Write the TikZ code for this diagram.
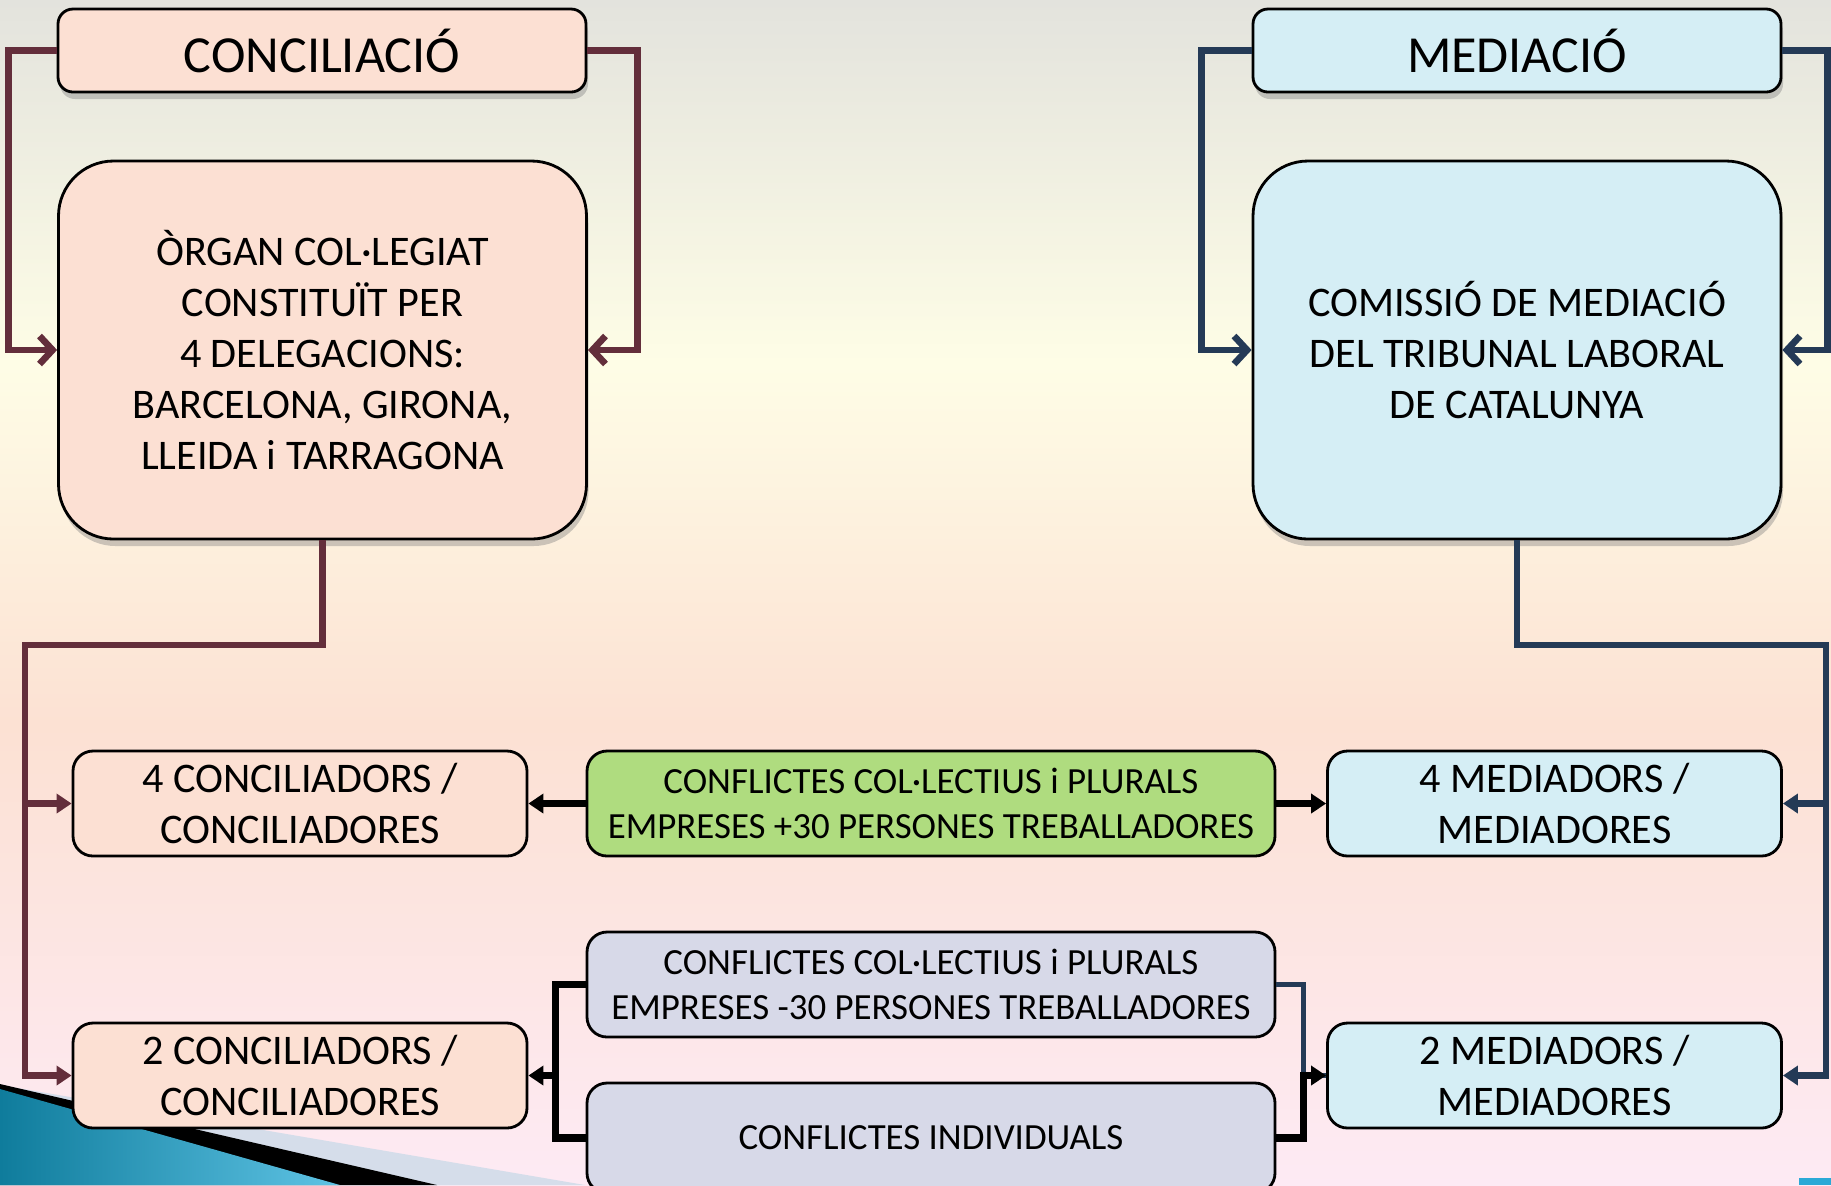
\documentclass[tikz,border=0pt]{standalone}
\usepackage{fontspec}
\setmainfont{Carlito}
\usetikzlibrary{arrows.meta,shadows}
\definecolor{concfill}{HTML}{FCE0D3}
\definecolor{medfill}{HTML}{D5EEF5}
\definecolor{greenfill}{HTML}{AFDC7F}
\definecolor{greyfill}{HTML}{D7D9E8}
\definecolor{concline}{HTML}{632E3B}
\definecolor{medline}{HTML}{243A56}
\definecolor{bggrey}{HTML}{E3E3DD}
\definecolor{bgyellow}{HTML}{FEFDE6}
\definecolor{bgpeach}{HTML}{FCE1D3}
\definecolor{bgpink}{HTML}{FDEAF4}
\definecolor{wedgeblue}{HTML}{0F7C9C}
\definecolor{wedgelight}{HTML}{5EC3E4}
\definecolor{wedgegrey}{HTML}{D5DDEA}
\definecolor{cornerteal}{HTML}{2AA9D6}
\begin{document}
\begin{tikzpicture}[
    box/.style={draw=black, line width=0.8pt, align=center, inner sep=0pt},
    headbox/.style={box, rounded corners=0.15cm, minimum width=5.28cm, minimum height=0.83cm,
      font=\fontsize{14.8}{17.8}\selectfont,
      drop shadow={shadow xshift=0.2mm, shadow yshift=-0.7mm, opacity=0.4}},
    mainbox/.style={box, rounded corners=0.55cm, minimum width=5.28cm, minimum height=3.78cm,
      font=\fontsize{12}{14.5}\selectfont,
      drop shadow={shadow xshift=0.2mm, shadow yshift=-0.7mm, opacity=0.4}},
    groupbox/.style={box, rounded corners=0.2cm, minimum width=4.54cm, minimum height=1.05cm,
      font=\fontsize{12}{14.5}\selectfont},
    casebox/.style={box, rounded corners=0.2cm, minimum width=6.88cm, minimum height=1.05cm,
      font=\fontsize{10.5}{12.6}\selectfont},
    cline/.style={draw=concline, line width=1.9pt},
    mline/.style={draw=medline, line width=1.9pt},
    kline/.style={draw=black, line width=2.2pt},
    barb/.style={-{Straight Barb[length=1.3mm,width=2.8mm]}},
    filltip/.style={-{Triangle[length=1.5mm,width=1.9mm]}}]
  \useasboundingbox (0,0) rectangle (18.31,-11.85);
  \shade[top color=bggrey, bottom color=bgyellow] (0,0) rectangle (18.31,-3.64);
  \shade[top color=bgyellow, bottom color=bgpeach] (0,-3.63) rectangle (18.31,-7.26);
  \shade[top color=bgpeach, bottom color=bgpink] (0,-7.25) rectangle (18.31,-11.85);
  \fill[wedgegrey] (0,-10.85) -- (5.85,-11.85) -- (0,-11.85) -- cycle;
  \fill[black] (0,-10.84) -- (4.37,-11.85) -- (0,-11.85) -- cycle;
  \shade[left color=wedgeblue, right color=wedgelight] (0,-10.89) -- (3.40,-11.85) -- (0,-11.85) -- cycle;
  \fill[cornerteal] (17.99,-11.78) rectangle (18.31,-11.85);

  \node[headbox, fill=concfill] (conc) at (3.22,-0.505) {CONCILIACIÓ};
  \node[mainbox, fill=concfill] (organ) at (3.225,-3.50)
    {ÒRGAN COL·LEGIAT\\CONSTITUÏT PER\\4 DELEGACIONS:\\BARCELONA, GIRONA,\\LLEIDA i TARRAGONA};
  \node[headbox, fill=medfill] (med) at (15.17,-0.505) {MEDIACIÓ};
  \node[mainbox, fill=medfill] (comissio) at (15.17,-3.50)
    {COMISSIÓ DE MEDIACIÓ\\DEL TRIBUNAL LABORAL\\DE CATALUNYA};
  \node[groupbox, fill=concfill] (conc4) at (3.00,-8.035) {4 CONCILIADORS /\\CONCILIADORES};
  \node[groupbox, fill=concfill] (conc2) at (3.00,-10.755) {2 CONCILIADORS /\\CONCILIADORES};
  \node[groupbox, fill=medfill] (med4) at (15.545,-8.035) {4 MEDIADORS /\\MEDIADORES};
  \node[groupbox, fill=medfill] (med2) at (15.545,-10.755) {2 MEDIADORS /\\MEDIADORES};
  \node[casebox, fill=greenfill] (collmes) at (9.31,-8.035)
    {CONFLICTES COL·LECTIUS i PLURALS\\EMPRESES +30 PERSONES TREBALLADORES};
  \node[casebox, fill=greyfill] (collmenys) at (9.31,-9.845)
    {CONFLICTES COL·LECTIUS i PLURALS\\EMPRESES -30 PERSONES TREBALLADORES};
  \node[casebox, fill=greyfill, minimum height=1.10cm] (indiv) at (9.31,-11.38) {CONFLICTES INDIVIDUALS};

  \draw[cline,barb] (conc.west) -- ++(-0.48,0) |- (organ.west);
  \draw[cline,barb] (conc.east) -- ++(0.50,0) |- (organ.east);
  \draw[mline,barb] (med.west) -- ++(-0.50,0) |- (comissio.west);
  \draw[mline,barb] (med.east) -- ++(0.45,0) |- (comissio.east);

  \coordinate (lbus) at (0.25,-6.45);
  \coordinate (rbus) at (18.26,-6.45);
  \draw[cline,filltip] (organ.south) |- (lbus) |- (conc2.west);
  \draw[cline,filltip] (lbus |- conc4.west) -- (conc4.west);
  \draw[mline,filltip] (comissio.south) |- (rbus) |- (med2.east);
  \draw[mline,filltip] (rbus |- med4.east) -- (med4.east);

  \draw[kline,filltip] (collmes.west) -- (conc4.east);
  \draw[kline,filltip] (collmes.east) -- (med4.west);
  \draw[kline] (collmenys.west) -- ++(-0.30,0) |- (indiv.west);
  \draw[kline,filltip] (collmenys.west) ++(-0.30,0) |- (conc2.east);
  \draw[mline, line width=1.3pt] (collmenys.east) -- ++(0.27,0) |- (med2.west);
  \draw[kline,filltip] (indiv.east) -- ++(0.27,0) |- (med2.west);
\end{tikzpicture}
\end{document}
